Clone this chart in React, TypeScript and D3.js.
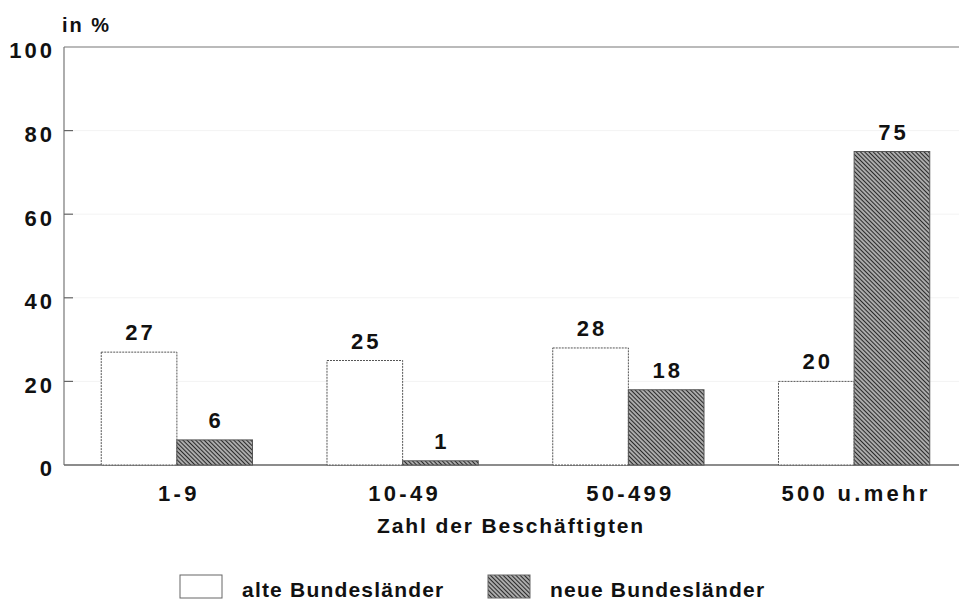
import { useEffect, useRef } from "react";
import * as d3 from "d3";

const categories = ["1-9", "10-49", "50-499", "500 u.mehr"];
const series = ["alte Bundesländer", "neue Bundesländer"];
const alte = [27, 25, 28, 20];
const neue = [6, 1, 18, 75];
const yTicks = [0, 20, 40, 60, 80, 100];

const font = "'Liberation Sans', Arial, sans-serif";

const App = () => {
  const ref = useRef<SVGSVGElement | null>(null);

  useEffect(() => {
    const width = 959;
    const height = 604;
    const margin = { top: 47, right: 0, bottom: 139, left: 64 };

    const svg = d3.select(ref.current);
    svg.selectAll("*").remove();

    const defs = svg.append("defs");
    const pat = defs
      .append("pattern")
      .attr("id", "hatch")
      .attr("patternUnits", "userSpaceOnUse")
      .attr("width", 3)
      .attr("height", 3)
      .attr("patternTransform", "rotate(45)");
    pat.append("rect").attr("width", 3).attr("height", 3).attr("fill", "#d6d6d6");
    pat
      .append("line")
      .attr("x1", 0)
      .attr("y1", 1.5)
      .attr("x2", 3)
      .attr("y2", 1.5)
      .attr("stroke", "#2a2a2a")
      .attr("stroke-width", 1.5);

    const x0 = d3
      .scaleBand<string>()
      .domain(categories)
      .range([margin.left, 967])
      .paddingInner(0)
      .paddingOuter(0);

    const groupW = x0.bandwidth() * 0.67;
    const x1 = d3
      .scaleBand<string>()
      .domain(series)
      .range([0, groupW]);

    const y = d3
      .scaleLinear()
      .domain([0, 100])
      .range([height - margin.bottom, margin.top]);

    const textStyle = (sel: any, size: number, ls: number) =>
      sel
        .attr("font-family", font)
        .attr("font-weight", "bold")
        .attr("font-size", size)
        .attr("letter-spacing", ls)
        .attr("fill", "#111");

    // faint grid
    svg
      .append("g")
      .selectAll("line")
      .data(yTicks.filter((t) => t > 0 && t < 100))
      .join("line")
      .attr("x1", margin.left)
      .attr("x2", width)
      .attr("y1", (d) => y(d))
      .attr("y2", (d) => y(d))
      .attr("stroke", "#f3f3f3")
      .attr("stroke-width", 1);

    // frame: left axis, top and bottom line
    svg
      .append("line")
      .attr("x1", margin.left)
      .attr("x2", margin.left)
      .attr("y1", y(100))
      .attr("y2", y(0))
      .attr("stroke", "#777")
      .attr("stroke-width", 1.2);
    svg
      .append("line")
      .attr("x1", margin.left)
      .attr("x2", width)
      .attr("y1", y(100))
      .attr("y2", y(100))
      .attr("stroke", "#777")
      .attr("stroke-width", 1.2);
    svg
      .append("line")
      .attr("x1", margin.left)
      .attr("x2", width)
      .attr("y1", y(0))
      .attr("y2", y(0))
      .attr("stroke", "#666")
      .attr("stroke-width", 1.3);

    // y ticks
    const yg = svg.append("g");
    yg.selectAll("line")
      .data(yTicks.filter((t) => t > 0 && t < 100))
      .join("line")
      .attr("x1", margin.left)
      .attr("x2", margin.left + 9)
      .attr("y1", (d) => y(d))
      .attr("y2", (d) => y(d))
      .attr("stroke", "#666")
      .attr("stroke-width", 1.2);
    yg.selectAll("text")
      .data(yTicks)
      .join("text")
      .attr("x", 55)
      .attr("y", (d) => y(d))
      .attr("dy", "0.52em")
      .attr("text-anchor", "end")
      .call(textStyle, 22, 3)
      .text((d) => String(d));

    svg
      .append("text")
      .attr("x", 62)
      .attr("y", 32)
      .call(textStyle, 20, 2)
      .text("in %");

    // bars
    const rows = categories.map((c, i) => ({ c, vals: [alte[i], neue[i]] }));
    const groups = svg
      .append("g")
      .selectAll("g")
      .data(rows)
      .join("g")
      .attr(
        "transform",
        (d) => `translate(${x0(d.c)! + (x0.bandwidth() - groupW) / 2},0)`
      );

    groups
      .selectAll("rect")
      .data((d) => d.vals.map((v, j) => ({ s: series[j], v })))
      .join("rect")
      .attr("x", (d) => x1(d.s)!)
      .attr("y", (d) => y(d.v))
      .attr("width", x1.bandwidth())
      .attr("height", (d) => y(0) - y(d.v))
      .attr("fill", (d) => (d.s === series[0] ? "#fff" : "url(#hatch)"))
      .attr("stroke", "#555")
      .attr("stroke-width", 1)
      .attr("stroke-dasharray", (d) => (d.s === series[0] ? "2,1" : null));

    groups
      .selectAll("text")
      .data((d) => d.vals.map((v, j) => ({ s: series[j], v })))
      .join("text")
      .attr("x", (d) => x1(d.s)! + x1.bandwidth() / 2 + 1.5)
      .attr("y", (d) => y(d.v) - 12)
      .attr("text-anchor", "middle")
      .call(textStyle, 22, 3)
      .text((d) => String(d.v));

    // category labels
    svg
      .append("g")
      .selectAll("text")
      .data(categories)
      .join("text")
      .attr("x", (d) => x0(d)! + x0.bandwidth() / 2 + 2)
      .attr("y", 501)
      .attr("text-anchor", "middle")
      .call(textStyle, 22, 3.3)
      .text((d) => d);

    svg
      .append("text")
      .attr("x", 511)
      .attr("y", 533)
      .attr("text-anchor", "middle")
      .call(textStyle, 21, 1.9)
      .text("Zahl der Beschäftigten");

    // legend
    const legendX = [180, 488];
    const lg = svg
      .append("g")
      .selectAll("g")
      .data(series)
      .join("g")
      .attr("transform", (_d, i) => `translate(${legendX[i]},575)`);
    lg.append("rect")
      .attr("width", 42)
      .attr("height", 23)
      .attr("fill", (d) => (d === series[0] ? "#fff" : "url(#hatch)"))
      .attr("stroke", "#666")
      .attr("stroke-width", 1);
    lg.append("text")
      .attr("x", 62)
      .attr("y", 22)
      .call(textStyle, 21, 1.2)
      .text((d) => d);
  }, []);

  return (
    <svg
      ref={ref}
      width={959}
      height={604}
      style={{ position: "absolute", left: 0, top: 0, background: "#fff" }}
    ></svg>
  );
};

export default App;
